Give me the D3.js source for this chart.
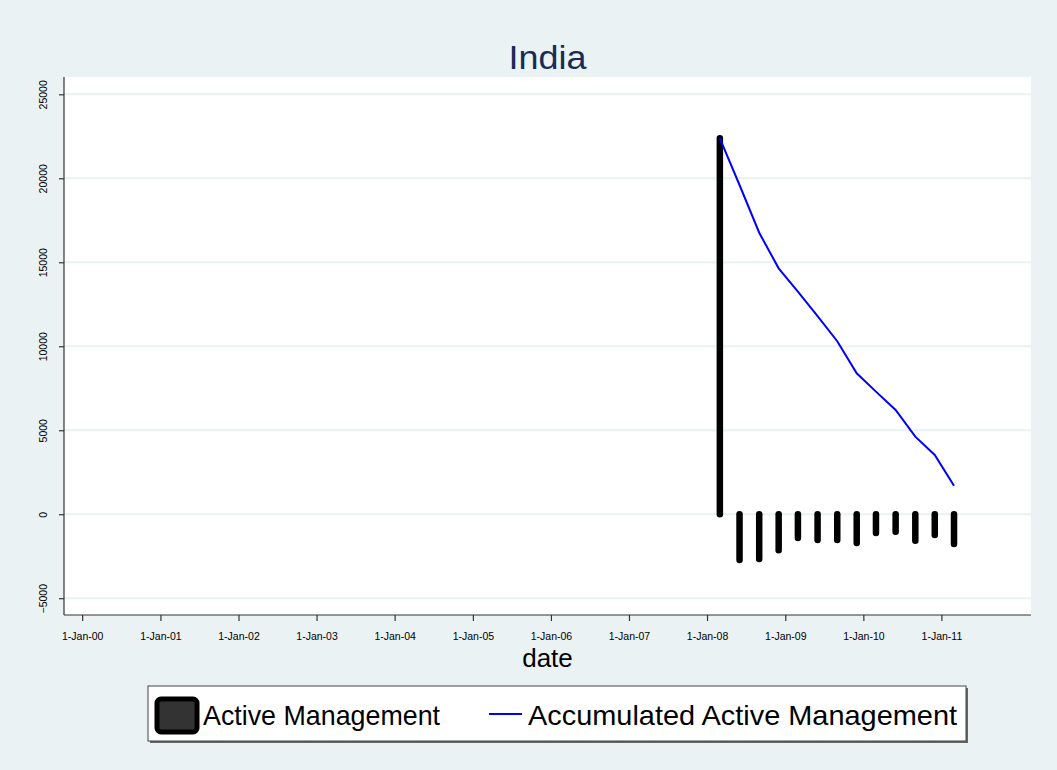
<!DOCTYPE html>
<html><head><meta charset="utf-8">
<script src="https://cdn.jsdelivr.net/npm/d3@7"></script>
<style>body{margin:0;background:#eaf2f3;overflow:hidden}svg{display:block}</style>
</head><body><svg id="c" width="1057" height="770"></svg>
<script>
// ---- data ----
const dates = ["2008-03-01","2008-06-01","2008-09-01","2008-12-01","2009-03-01","2009-06-01","2009-09-01","2009-12-01","2010-03-01","2010-06-01","2010-09-01","2010-12-01","2011-03-01"];
const activeManagement = [22380,-2730,-2670,-2140,-1420,-1540,-1540,-1720,-1120,-1040,-1580,-1240,-1780];
const accumulatedActive = [22380,19600,16760,14640,13250,11800,10300,8390,7300,6210,4620,3530,1700];
const yTicks = [-5000,0,5000,10000,15000,20000,25000];
const xTicks = ["2000-01-01","2001-01-01","2002-01-01","2003-01-01","2004-01-01","2005-01-01","2006-01-01","2007-01-01","2008-01-01","2009-01-01","2010-01-01","2011-01-01"];
const xDomain = ["1999-10-08","2012-02-24"];
const yDomain = [-6000, 26030];
const titleText = "India";
const xTitle = "date";
const legendLabels = ["Active Management","Accumulated Active Management"];

const parse = d3.timeParse("%Y-%m-%d");
const fmt = d3.timeFormat("%-d-%b-%y");
const font = "'Liberation Sans', Arial, Helvetica, sans-serif";

const svg = d3.select("#c");
const W = 1057, H = 770;
const P = {left:64, right:1031, top:77, bottom:615};

svg.append("rect").attr("width",W).attr("height",H).attr("fill","#eaf2f3");
svg.append("rect").attr("x",P.left).attr("y",P.top).attr("width",P.right-P.left).attr("height",P.bottom-P.top).attr("fill","#ffffff");

const x = d3.scaleTime().domain(xDomain.map(parse)).range([P.left,P.right]);
const y = d3.scaleLinear().domain(yDomain).range([P.bottom,P.top]);

// gridlines
svg.append("g").selectAll("line").data(yTicks).join("line")
  .attr("x1",P.left).attr("x2",P.right)
  .attr("y1",d=>y(d)).attr("y2",d=>y(d))
  .attr("stroke","#eaf2f3").attr("stroke-width",2);

// y axis
const yAxis = svg.append("g").attr("transform",`translate(${P.left},0)`)
  .call(d3.axisLeft(y).tickValues(yTicks).tickSize(5).tickSizeOuter(0).tickFormat(d3.format("d")));
yAxis.select(".domain").attr("stroke","#333").attr("stroke-width",1.2).attr("d",`M0,${P.top}V${P.bottom}`);
yAxis.selectAll(".tick line").attr("stroke","#333").attr("stroke-width",1.2);
yAxis.selectAll(".tick text").attr("font-family",font).attr("font-size",10.5).attr("fill","#000")
  .attr("text-anchor","middle").attr("x",0).attr("dy",0)
  .attr("transform","translate(-17,0) rotate(-90)");

// x axis
const xAxis = svg.append("g").attr("transform",`translate(0,${P.bottom})`)
  .call(d3.axisBottom(x).tickValues(xTicks.map(parse)).tickSize(6).tickSizeOuter(0).tickFormat(fmt));
xAxis.select(".domain").attr("stroke","#333").attr("stroke-width",1.2).attr("d",`M${P.left},0H${P.right}`);
xAxis.selectAll(".tick line").attr("stroke","#333").attr("stroke-width",1.2);
xAxis.selectAll(".tick text").attr("font-family",font).attr("font-size",10.5).attr("fill","#000").attr("y",18).attr("dy","0.71em");

// bars (spikes)
const pts = dates.map((d,i)=>({date:parse(d), v:activeManagement[i], acc:accumulatedActive[i]}));
svg.append("g").selectAll("line").data(pts).join("line")
  .attr("x1",d=>x(d.date)).attr("x2",d=>x(d.date))
  .attr("y1",y(0)).attr("y2",d=>y(d.v))
  .attr("stroke","#000").attr("stroke-width",6.5).attr("stroke-linecap","round");

// accumulated line
svg.append("path").datum(pts)
  .attr("d",d3.line().x(d=>x(d.date)).y(d=>y(d.acc)))
  .attr("fill","none").attr("stroke","#0000ff").attr("stroke-width",2);

// title
svg.append("text").attr("x",(P.left+P.right)/2).attr("y",69).attr("text-anchor","middle")
  .attr("font-family",font).attr("font-size",34).attr("fill","#1a2a57")
  .attr("textLength",78).attr("lengthAdjust","spacingAndGlyphs").text(titleText);

// x title
svg.append("text").attr("x",(P.left+P.right)/2).attr("y",667).attr("text-anchor","middle")
  .attr("font-family",font).attr("font-size",26).attr("fill","#000").text(xTitle);

// legend
const lg = svg.append("g");
lg.append("rect").attr("x",150).attr("y",688).attr("width",818).attr("height",55)
  .attr("fill","#666").attr("stroke","none");
lg.append("rect").attr("x",148).attr("y",686).attr("width",818).attr("height",55)
  .attr("fill","#fff").attr("stroke","#444").attr("stroke-width",1);
lg.append("rect").attr("x",157).attr("y",699).attr("width",40).attr("height",33).attr("rx",4)
  .attr("fill","#333").attr("stroke","#000").attr("stroke-width",5);
lg.append("text").attr("x",203).attr("y",725).attr("font-family",font).attr("font-size",28)
  .attr("fill","#000").attr("textLength",237).attr("lengthAdjust","spacingAndGlyphs").text(legendLabels[0]);
lg.append("line").attr("x1",489).attr("x2",522).attr("y1",714).attr("y2",714)
  .attr("stroke","#0000ff").attr("stroke-width",2);
lg.append("text").attr("x",528).attr("y",725).attr("font-family",font).attr("font-size",28)
  .attr("fill","#000").attr("textLength",429).attr("lengthAdjust","spacingAndGlyphs").text(legendLabels[1]);
</script>
</body></html>
